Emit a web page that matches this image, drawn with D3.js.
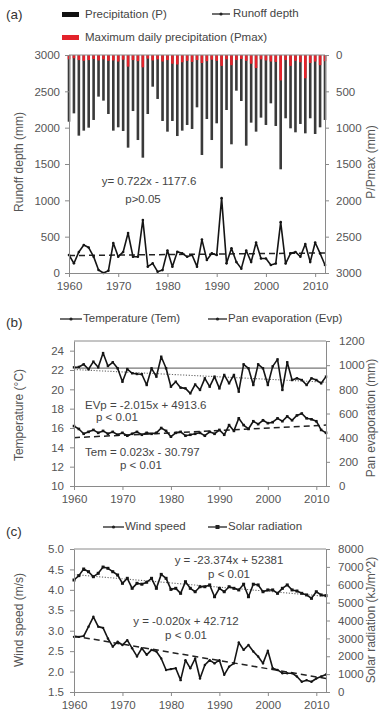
<!DOCTYPE html>
<html><head><meta charset="utf-8">
<script src="https://cdn.jsdelivr.net/npm/d3@7"></script>
<style>body{margin:0;background:#fff}svg{display:block}</style>
</head><body>
<svg id="c" width="380" height="713"></svg>
<script>
// ---------------- DATA ----------------
const years = d3.range(1960, 2013);
const yearTicks = [1960, 1970, 1980, 1990, 2000, 2010];

// Panel (a)
const precip = [918,803,1110,1041,1000,894,573,628,812,1041,995,1046,1275,771,1170,1413,812,436,605,908,1055,908,1115,1041,963,1018,
                720,1376,881,1170,940,1559,757,1229,491,633,1248,931,1055,862,963,665,977,1573,871,1009,1064,949,1078,871,1087,995,894];
const pmax = [60,45,70,80,70,55,75,60,80,75,90,65,160,70,85,170,50,75,60,90,70,120,130,100,80,95,
              70,110,85,65,80,150,60,140,70,55,80,120,180,60,75,90,95,350,70,150,80,100,320,110,90,140,85];
const runoff = [248,133,290,385,350,225,41,0,30,413,224,290,550,224,224,730,87,133,18,40,310,87,293,270,224,248,
                87,460,180,270,248,1030,133,340,150,60,310,150,420,200,200,110,130,700,130,270,290,224,400,150,420,270,110];
const runoffTrend = [240, 276];           // trend line values at 1960 and 2012
const runoffTicks = [0,500,1000,1500,2000,2500,3000];
const pTicks = [0,500,1000,1500,2000,2500,3000];

// Panel (b)
const evp = [982,985,1007,966,1029,982,1100,993,1024,974,863,968,933,927,925,836,974,905,1070,974,822,863,814,808,767,840,
             795,891,822,905,808,919,850,919,781,1007,974,836,1007,974,836,990,1048,795,1024,877,891,877,836,891,877,850,905];
const tem = [16.2,15.9,15.4,15.6,15.8,15.5,15.7,15.4,15.6,15.3,15.5,15.2,15.4,15.6,15.3,15.5,15.4,15.5,16.0,15.7,15.1,15.5,15.6,15.2,15.3,15.4,
             15.5,15.2,15.6,15.4,15.8,15.3,16.3,15.7,17.0,16.3,15.9,16.7,16.4,16.8,16.5,16.6,17.0,16.7,17.2,16.8,17.3,17.5,17.0,16.9,16.7,15.8,15.5];
const evpTrend = [964, 859];
const temTrend = [15.0, 16.3];
const evpRefLine = [975];
const temTicks = [10,12,14,16,18,20,22,24];
const evpTicks = [0,200,400,600,800,1000,1200];

// Panel (c)
const solar = [6266,6510,6880,6730,6450,6640,6990,6920,6730,6545,6080,6360,5800,6080,6030,6140,6360,5800,6580,6360,5740,5800,5520,6170,5800,5610,
               5890,5890,5990,5330,5800,5610,5890,5800,5710,6030,5330,6030,5990,5610,5710,5710,5520,5800,5990,5710,5650,5520,5430,5240,5610,5430,5390];
const wind = [2.85,2.85,2.87,3.10,3.34,3.10,3.07,2.81,2.61,2.73,2.65,2.77,2.57,2.37,2.57,2.41,2.53,2.49,2.32,2.04,2.06,2.08,1.79,2.28,2.08,2.32,
              1.83,2.16,2.28,2.20,2.28,1.92,2.12,2.20,2.71,2.53,2.65,2.49,2.37,2.20,2.51,2.08,2.04,1.96,1.96,1.96,1.88,1.75,1.79,1.75,1.83,1.88,1.93];
const solarTrend = [6568, 5353];
const windTrend = [2.87, 1.83];
const windTicks = [1.5,2.0,2.5,3.0,3.5,4.0,4.5,5.0];
const solarTicks = [0,1000,2000,3000,4000,5000,6000,7000,8000];

// ---------------- DRAW ----------------
const FONT = '"Liberation Sans", Arial, Helvetica, sans-serif';
const svg = d3.select("#c");
const AX = "#8a8a8a", TXT = "#555", LBL = "#444";
const fmtInt = d3.format("d");

function styleAxis(g) {
  g.select(".domain").attr("stroke", AX).attr("stroke-width", 1);
  g.selectAll(".tick line").attr("stroke", AX);
  g.selectAll(".tick text").attr("fill", TXT).attr("font-size", 11.5).attr("font-family", FONT);
}
function text(x, y, s, opts = {}) {
  return svg.append("text").attr("x", x).attr("y", y).text(s)
    .attr("font-family", FONT).attr("font-size", opts.size || 11.5)
    .attr("fill", opts.fill || LBL).attr("text-anchor", opts.anchor || "start")
    .attr("dominant-baseline", "middle");
}
function vtext(cx, cy, s, size) {
  svg.append("text").attr("transform", `translate(${cx},${cy}) rotate(-90)`)
    .attr("text-anchor", "middle").attr("dominant-baseline", "middle")
    .attr("font-family", FONT).attr("font-size", size || 12).attr("fill", TXT).text(s);
}
function lineLegend(x1, x2, y, square) {
  svg.append("line").attr("x1", x1).attr("x2", x2).attr("y1", y).attr("y2", y).attr("stroke", "#222").attr("stroke-width", 1.3);
  const m = (x1 + x2) / 2;
  if (square) svg.append("rect").attr("x", m - 2).attr("y", y - 2).attr("width", 4).attr("height", 4).attr("fill", "#222");
  else svg.append("circle").attr("cx", m).attr("cy", y).attr("r", 1.6).attr("fill", "#222");
}
function bottomAxis(x, y0) {
  svg.append("g").attr("transform", `translate(0,${y0})`)
    .call(d3.axisBottom(x).tickValues(yearTicks).tickFormat(fmtInt).tickSize(4).tickSizeOuter(0).tickPadding(5))
    .call(styleAxis);
}
function topBorder(x, y) {
  svg.append("line").attr("x1", x.range()[0]).attr("x2", x.range()[1]).attr("y1", y).attr("y2", y).attr("stroke", AX);
}
function trend(x, y, vals, dash, color, w) {
  svg.append("line").attr("x1", x(1960)).attr("x2", x(2012))
    .attr("y1", y(vals[0])).attr("y2", y(vals[1]))
    .attr("stroke", color).attr("stroke-width", w).attr("stroke-dasharray", dash);
}
function series(x, y, vals, marker, msize) {
  const pts = years.map((yr, i) => [x(yr), y(vals[i])]);
  svg.append("path").attr("d", d3.line()(pts)).attr("fill", "none").attr("stroke", "#151515").attr("stroke-width", 1.6).attr("stroke-linejoin", "round");
  const g = svg.append("g");
  if (marker === "square") {
    g.selectAll("rect").data(pts).join("rect").attr("x", d => d[0] - msize / 2).attr("y", d => d[1] - msize / 2)
      .attr("width", msize).attr("height", msize).attr("fill", "#151515");
  } else {
    g.selectAll("circle").data(pts).join("circle").attr("cx", d => d[0]).attr("cy", d => d[1]).attr("r", msize).attr("fill", "#151515");
  }
}

// ===== Panel (a) =====
const xA = d3.scaleLinear().domain([1960, 2012]).range([69, 325]);
const yRun = d3.scaleLinear().domain([0, 3000]).range([273, 55]);
const yP = d3.scaleLinear().domain([0, 3000]).range([55, 273]);

text(6, 15, "(a)", { size: 13.5, fill: "#333" });
svg.append("rect").attr("x", 62).attr("y", 12).attr("width", 17).attr("height", 5).attr("fill", "#111");
text(85, 15, "Precipitation (P)");
lineLegend(212, 230, 14, false);
text(233, 14, "Runoff depth");
svg.append("rect").attr("x", 62).attr("y", 35).attr("width", 17).attr("height", 5).attr("fill", "#e3232b");
text(85, 37.5, "Maximum daily precipitation (Pmax)");

const bw = 2.6;
svg.append("g").selectAll("rect").data(years).join("rect")
  .attr("x", d => xA(d) - bw / 2).attr("y", yP(0)).attr("width", bw)
  .attr("height", (d, i) => yP(precip[i]) - yP(0)).attr("fill", "#3a3a3a");
svg.append("g").selectAll("rect").data(years).join("rect")
  .attr("x", d => xA(d) - bw / 2).attr("y", yP(0)).attr("width", bw)
  .attr("height", (d, i) => yP(pmax[i]) - yP(0)).attr("fill", "#e3232b");

trend(xA, yRun, runoffTrend, "6,4", "#222", 1.5);
series(xA, yRun, runoff, "circle", 1.3);
topBorder(xA, 55);

svg.append("g").attr("transform", `translate(69,0)`)
  .call(d3.axisLeft(yRun).tickValues(runoffTicks).tickFormat(fmtInt).tickSize(4).tickSizeOuter(0).tickPadding(5)).call(styleAxis);
svg.append("g").attr("transform", `translate(325,0)`)
  .call(d3.axisRight(yP).tickValues(pTicks).tickFormat(fmtInt).tickSize(4).tickSizeOuter(0).tickPadding(7)).call(styleAxis);
bottomAxis(xA, 273);

text(149, 182, "y= 0.722x - 1177.6", { anchor: "middle" });
text(143, 200, "p>0.05", { anchor: "middle" });
vtext(20, 162, "Runoff depth (mm)");
vtext(372, 162, "P/Pmax (mm)");

// ===== Panel (b) =====
const xB = d3.scaleLinear().domain([1960, 2012]).range([74, 326]);
const yT = d3.scaleLinear().domain([10, 25]).range([486, 341]);
const yE = d3.scaleLinear().domain([0, 1200]).range([486, 341]);

text(6, 323, "(b)", { size: 13.5, fill: "#333" });
lineLegend(60, 82, 319, false);
text(83, 319, "Temperature (Tem)");
lineLegend(208, 227, 319, false);
text(228, 319, "Pan evaporation (Evp)");

topBorder(xB, 341);
svg.append("line").attr("x1", 74).attr("x2", 326).attr("y1", yE(evpRefLine[0])).attr("y2", yE(evpRefLine[0]))
  .attr("stroke", "#777").attr("stroke-width", 1.2);
trend(xB, yE, evpTrend, "1.2,1.6", "#666", 1.1);
trend(xB, yT, temTrend, "6,4", "#222", 1.5);
series(xB, yE, evp, "square", 2.4);
series(xB, yT, tem, "square", 2.6);

svg.append("g").attr("transform", `translate(74,0)`)
  .call(d3.axisLeft(yT).tickValues(temTicks).tickFormat(fmtInt).tickSize(4).tickSizeOuter(0).tickPadding(6)).call(styleAxis);
svg.append("g").attr("transform", `translate(326,0)`)
  .call(d3.axisRight(yE).tickValues(evpTicks).tickFormat(fmtInt).tickSize(4).tickSizeOuter(0).tickPadding(9)).call(styleAxis);
bottomAxis(xB, 486);

text(85, 406, "EVp = -2.015x + 4913.6");
text(96, 418, "p < 0.01");
text(85, 453, "Tem = 0.023x - 30.797");
text(120, 466, "p < 0.01");
vtext(20, 415, "Temperature (°C)");
vtext(372, 418, "Pan evaporation (mm)");

// ===== Panel (c) =====
const xC = d3.scaleLinear().domain([1960, 2012]).range([74, 326]);
const yW = d3.scaleLinear().domain([1.5, 5.0]).range([692, 549]);
const yS = d3.scaleLinear().domain([0, 8000]).range([692, 549]);

text(6, 532, "(c)", { size: 13.5, fill: "#333" });
lineLegend(103, 124, 527, false);
text(125, 527, "Wind speed");
lineLegend(208, 227, 527, true);
text(228, 527, "Solar radiation");

topBorder(xC, 549);
trend(xC, yS, solarTrend, "1.2,1.6", "#666", 1.1);
trend(xC, yW, windTrend, "6,4", "#222", 1.5);
series(xC, yS, solar, "square", 3);
series(xC, yW, wind, "circle", 1.2);

svg.append("g").attr("transform", `translate(74,0)`)
  .call(d3.axisLeft(yW).tickValues(windTicks).tickFormat(d3.format(".1f")).tickSize(4).tickSizeOuter(0).tickPadding(6)).call(styleAxis);
svg.append("g").attr("transform", `translate(326,0)`)
  .call(d3.axisRight(yS).tickValues(solarTicks).tickFormat(fmtInt).tickSize(4).tickSizeOuter(0).tickPadding(8)).call(styleAxis);
bottomAxis(xC, 692);

text(229, 561, "y = -23.374x + 52381", { anchor: "middle" });
text(229, 575, "p < 0.01", { anchor: "middle" });
text(186, 622, "y = -0.020x + 42.712", { anchor: "middle" });
text(186, 636, "p < 0.01", { anchor: "middle" });
vtext(20, 620, "Wind speed (m/s)");
vtext(372, 620, "Solar radiation (kJ/m^2)");
</script>
</body></html>
